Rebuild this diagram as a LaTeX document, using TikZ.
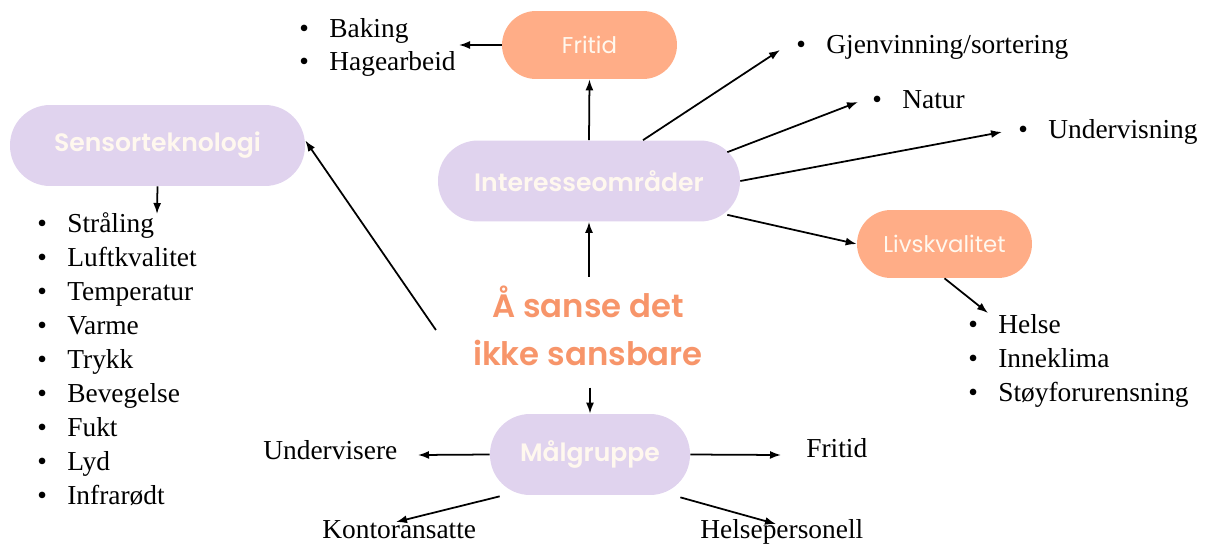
\documentclass[tikz,border=0pt]{standalone}
\usepackage{fontspec}
\setmainfont{Liberation Serif}
\newfontfamily\popfont[BoldFont={Poppins SemiBold}]{Poppins}
\usetikzlibrary{arrows.meta,positioning,calc}
\definecolor{lilac}{HTML}{E0D3EE}
\definecolor{peach}{HTML}{FFAD87}
\definecolor{coral}{HTML}{F7956A}
\definecolor{cream}{HTML}{FFF8EE}
\newcommand{\itm}[1]{\makebox[0.6cm][l]{\textbullet}#1}

\begin{document}
\begin{tikzpicture}[
      x=0.02cm, y=-0.02cm,
      pill/.style={rounded corners=0.8cm, fill=lilac, text=cream, minimum height=1.62cm,
        font=\popfont\bfseries\fontsize{14.3}{18}\selectfont},
      warm/.style={rounded corners=0.68cm, fill=peach, text=cream, minimum height=1.36cm,
        minimum width=3.5cm, font=\popfont\fontsize{13}{16}\selectfont},
      item/.style={font=\fontsize{15.6}{18}\selectfont, inner sep=0pt, anchor=base west},
      arr/.style={-{Latex[length=2.2mm,width=1.6mm]}, line width=1pt}
    ]
      \useasboundingbox (0,0) rectangle (1207,548);

      % main boxes
      \node[pill, minimum width=5.9cm] (sensor) at (157.5,145.5) {Sensorteknologi};
      \node[warm] (fritid) at (589.5,45) {Fritid};
      \node[pill, minimum width=6.04cm] (interesse) at (589,181) {Interesseområder};
      \node[warm] (livs) at (944.5,244) {Livskvalitet};
      \node[pill, minimum width=4cm] (maal) at (590,454.5) {Målgruppe};
      \node[font=\popfont\bfseries\fontsize{18.4}{27.5}\selectfont, text=coral, align=center]
        (tema) at (588,326) {Å sanse det\\ikke sansbare};

      % lists
      \foreach \w [count=\i] in {Stråling,Luftkvalitet,Temperatur,Varme,Trykk,Bevegelse,Fukt,Lyd,Infrarødt}
        \node[item] (sens\i) at (37,{232+34*(\i-1)}) {\itm{\w}};
      \node[item] (bake) at (299,37) {\itm{Baking}};
      \node[item] (hage) at (299,70) {\itm{Hagearbeid}};
      \node[item] (gjen) at (796,53) {\itm{Gjenvinning/sortering}};
      \node[item] (natur) at (872,108) {\itm{Natur}};
      \node[item] (underv) at (1018,138) {\itm{Undervisning}};
      \node[item] (helse) at (968,333) {\itm{Helse}};
      \node[item] (inne) at (968,367) {\itm{Inneklima}};
      \node[item] (stoy) at (968,401) {\itm{Støyforurensning}};

      % target groups
      \node[item] (laerer) at (263,459) {Undervisere};
      \node[item] (fri) at (806,457) {Fritid};
      \node[item] (kontor) at (322,538) {Kontoransatte};
      \node[item] (helsep) at (700,538) {Helsepersonell};

      % free arrow ends
      \coordinate (sensorend) at (157,214);
      \coordinate (bakeend) at (459,45);
      \coordinate (gjenend) at (780,50);
      \coordinate (naturend) at (858,102);
      \coordinate (undervend) at (1002,132);
      \coordinate (livsend) at (988,313);
      \coordinate (laererend) at (418,455);
      \coordinate (friend) at (781,455);
      \coordinate (kontorend) at (396,522);
      \coordinate (helsepend) at (776,524);

      % connectors
      \draw[arr] (sensor.south) -- (sensorend);
      \draw[arr] ($(tema.west)+(-31,4)$) -- ($(sensor.east)+(0,-5)$);
      \draw[arr] (interesse.north) -- (fritid.south);
      \draw[arr] (fritid.west) -- (bakeend);
      \draw[arr] ($(interesse.north)+(54,0)$) -- (gjenend);
      \draw[arr] ($(interesse.north east)+(-13,12)$) -- (naturend);
      \draw[arr] (interesse.east) -- (undervend);
      \draw[arr] ($(interesse.south east)+(-13,-7)$) -- (livs.west);
      \draw[arr] (livs.south) -- (livsend);
      \draw[arr] ($(interesse.south)+(0,55)$) -- (interesse.south);
      \draw[arr] ($(maal.north)+(0,-26)$) -- (maal.north);
      \draw[arr] (maal.west) -- (laererend);
      \draw[arr] (maal.east) -- (friend);
      \draw[arr] ($(maal.south west)+(10,1)$) -- (kontorend);
      \draw[arr] ($(maal.south east)+(-10,2)$) -- (helsepend);
\end{tikzpicture}
\end{document}
